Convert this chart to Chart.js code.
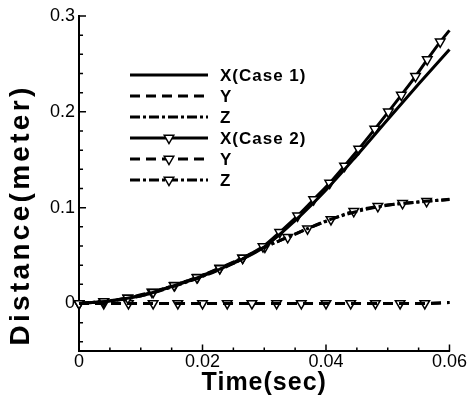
<!DOCTYPE html>
<html><head><meta charset="utf-8">
<script src="https://cdn.jsdelivr.net/npm/chart.js@4"></script>
<style>html,body{margin:0;padding:0;background:#fff}#wrap{width:467px;height:406px}</style>
</head><body><div id="wrap"><canvas id="c" width="467" height="406"></canvas></div>
<script>
// ---- data ----
const timeCase1 = [0, 0.005, 0.01, 0.015, 0.02, 0.025, 0.03, 0.035, 0.04, 0.045, 0.05, 0.055, 0.06];
const xCase1 = [0, 0.0027, 0.0080, 0.0177, 0.0287, 0.0420, 0.0590, 0.0865, 0.1185, 0.1545, 0.1920, 0.2290, 0.2650];
const yCase1 = [0, 0, 0, 0, 0, 0, 0, 0, 0, 0, 0, 0, 0.001];
const zCase1 = [0, 0.0026, 0.0078, 0.0172, 0.0282, 0.0418, 0.0585, 0.0725, 0.0860, 0.0960, 0.1025, 0.1060, 0.1085];

const timeXCase2 = [0, 0.0040, 0.0079, 0.0120, 0.0154, 0.0191, 0.0228, 0.0265, 0.0298, 0.0325, 0.0354, 0.0380, 0.0406, 0.0430, 0.0453, 0.0479, 0.0501, 0.0522, 0.0545, 0.0564, 0.0585, 0.06];
const xCase2 = [0, 0.0021, 0.0056, 0.0118, 0.0188, 0.0271, 0.0366, 0.0475, 0.0594, 0.0743, 0.0915, 0.1085, 0.1257, 0.1436, 0.1612, 0.1820, 0.2000, 0.2175, 0.2370, 0.2545, 0.2730, 0.2850];

const timeYCase2 = [0, 0.004, 0.008, 0.012, 0.016, 0.020, 0.024, 0.028, 0.032, 0.036, 0.040, 0.044, 0.048, 0.052, 0.056, 0.06];
const yCase2 = [0, 0, 0, 0, 0, 0, 0, 0, 0, 0, 0, 0, 0, 0, 0, 0.001];

const timeZCase2 = [0, 0.0040, 0.0079, 0.0118, 0.0155, 0.0192, 0.0228, 0.0265, 0.0301, 0.0338, 0.0370, 0.0408, 0.0445, 0.0484, 0.0524, 0.0563, 0.06];
const zCase2 = [0, 0.0021, 0.0058, 0.0120, 0.0190, 0.0275, 0.0370, 0.0475, 0.0590, 0.0690, 0.0780, 0.0877, 0.0962, 0.1014, 0.1045, 0.1066, 0.1087];

const seriesLabels = ['X(Case 1)', 'Y', 'Z', 'X(Case 2)', 'Y', 'Z'];
const xMajorTicks = [0, 0.02, 0.04, 0.06];
const xMinorTicks = [0.005, 0.01, 0.015, 0.025, 0.03, 0.035, 0.045, 0.05, 0.055];
const yMajorTicks = [0, 0.1, 0.2, 0.3];
const yMinorTicks = [-0.04, -0.02, 0.02, 0.04, 0.06, 0.08, 0.12, 0.14, 0.16, 0.18, 0.22, 0.24, 0.26, 0.28];
const xTitle = 'Time(sec)';
const yTitle = 'Distance(meter)';

// ---- styling ----
const FONT = '"Liberation Sans", Arial, Helvetica, sans-serif';
const DASH = [10, 6];
const DASHDOT = [10, 3, 3, 3];
const pts = (ts, vs) => ts.map((t, i) => ({x: t, y: vs[i]}));
function lineDs(label, data, dash) {
  return {label, data, borderColor: '#000', borderWidth: 3, borderDash: dash,
    pointRadius: 0, fill: false, cubicInterpolationMode: 'monotone', clip: false};
}
function markDs(label, data, dash) {
  const n = data.length;
  return {label, data, borderColor: '#000', borderWidth: 3, borderDash: dash,
    pointStyle: 'triangle', rotation: 180,
    pointRadius: c => (c.dataIndex === n - 1 ? 0 : 5.5),
    pointBackgroundColor: '#fff', pointBorderColor: '#000', pointBorderWidth: 1.5,
    fill: false, cubicInterpolationMode: 'monotone', clip: false, marker: true};
}

const datasets = [
  lineDs(seriesLabels[0], pts(timeCase1, xCase1), []),
  lineDs(seriesLabels[1], pts(timeCase1, yCase1), DASH),
  lineDs(seriesLabels[2], pts(timeCase1, zCase1), DASHDOT),
  markDs(seriesLabels[3], pts(timeXCase2, xCase2), []),
  markDs(seriesLabels[4], pts(timeYCase2, yCase2), DASH),
  markDs(seriesLabels[5], pts(timeZCase2, zCase2), DASHDOT)
];

const decor = {
  id: 'decor',
  afterDraw(chart) {
    const {ctx, chartArea: a, scales: {x, y}} = chart;
    ctx.save();
    // inward tick marks
    ctx.strokeStyle = '#000';
    ctx.lineWidth = 1.5;
    ctx.beginPath();
    xMajorTicks.forEach(v => { const p = x.getPixelForValue(v); ctx.moveTo(p, a.bottom); ctx.lineTo(p, a.bottom - 7); });
    xMinorTicks.forEach(v => { const p = x.getPixelForValue(v); ctx.moveTo(p, a.bottom); ctx.lineTo(p, a.bottom - 4); });
    yMajorTicks.forEach(v => { const p = y.getPixelForValue(v); ctx.moveTo(a.left, p); ctx.lineTo(a.left + 7, p); });
    yMinorTicks.forEach(v => { const p = y.getPixelForValue(v); ctx.moveTo(a.left, p); ctx.lineTo(a.left + 4, p); });
    ctx.stroke();

    // axis titles
    ctx.fillStyle = '#000';
    ctx.textAlign = 'center';
    ctx.textBaseline = 'middle';
    ctx.font = 'bold 25px ' + FONT;
    ctx.letterSpacing = '1px';
    ctx.fillText(xTitle, (a.left + a.right) / 2, 383);
    ctx.save();
    ctx.translate(21, 215);
    ctx.rotate(-Math.PI / 2);
    ctx.font = 'bold 28px ' + FONT;
    ctx.letterSpacing = '3.3px';
    ctx.fillText(yTitle, 0, 0);
    ctx.restore();

    // legend
    ctx.font = 'bold 17px ' + FONT;
    ctx.letterSpacing = '1px';
    ctx.textAlign = 'left';
    chart.data.datasets.forEach((ds, i) => {
      const yy = 75 + i * 21;
      ctx.save();
      ctx.strokeStyle = '#000';
      ctx.lineWidth = 3;
      ctx.setLineDash(ds.borderDash || []);
      ctx.beginPath();
      ctx.moveTo(130, yy);
      ctx.lineTo(208, yy);
      ctx.stroke();
      ctx.restore();
      if (ds.marker) {
        ctx.save();
        ctx.fillStyle = '#fff';
        ctx.strokeStyle = '#000';
        ctx.lineWidth = 1.5;
        Chart.helpers.drawPoint(ctx, {pointStyle: 'triangle', rotation: 180, radius: 5.5, borderWidth: 1.5}, 169, yy);
        ctx.restore();
      }
      ctx.fillStyle = '#000';
      ctx.fillText(ds.label, 220, yy + 1);
    });
    ctx.letterSpacing = '0px';
    ctx.restore();
  }
};

new Chart(document.getElementById('c'), {
  type: 'line',
  data: {datasets},
  options: {
    responsive: false,
    animation: false,
    layout: {padding: {left: 46, right: 16, top: 16, bottom: 33}},
    plugins: {legend: {display: false}, tooltip: {enabled: false}},
    scales: {
      x: {
        type: 'linear', min: 0, max: 0.06,
        grid: {display: false, drawTicks: false},
        border: {display: true, color: '#000', width: 2},
        afterBuildTicks: s => { s.ticks = xMajorTicks.map(v => ({value: v})); },
        ticks: {color: '#000', font: {family: FONT, size: 18}, padding: 0, maxRotation: 0, autoSkip: false,
          callback: v => String(v)}
      },
      y: {
        type: 'linear', min: -0.05, max: 0.3,
        grid: {display: false, drawTicks: false},
        border: {display: true, color: '#000', width: 2},
        afterBuildTicks: s => { s.ticks = yMajorTicks.map(v => ({value: v})); },
        ticks: {color: '#000', font: {family: FONT, size: 18}, padding: 4, autoSkip: false,
          callback: v => String(v)}
      }
    }
  },
  plugins: [decor]
});
</script>
</body></html>
